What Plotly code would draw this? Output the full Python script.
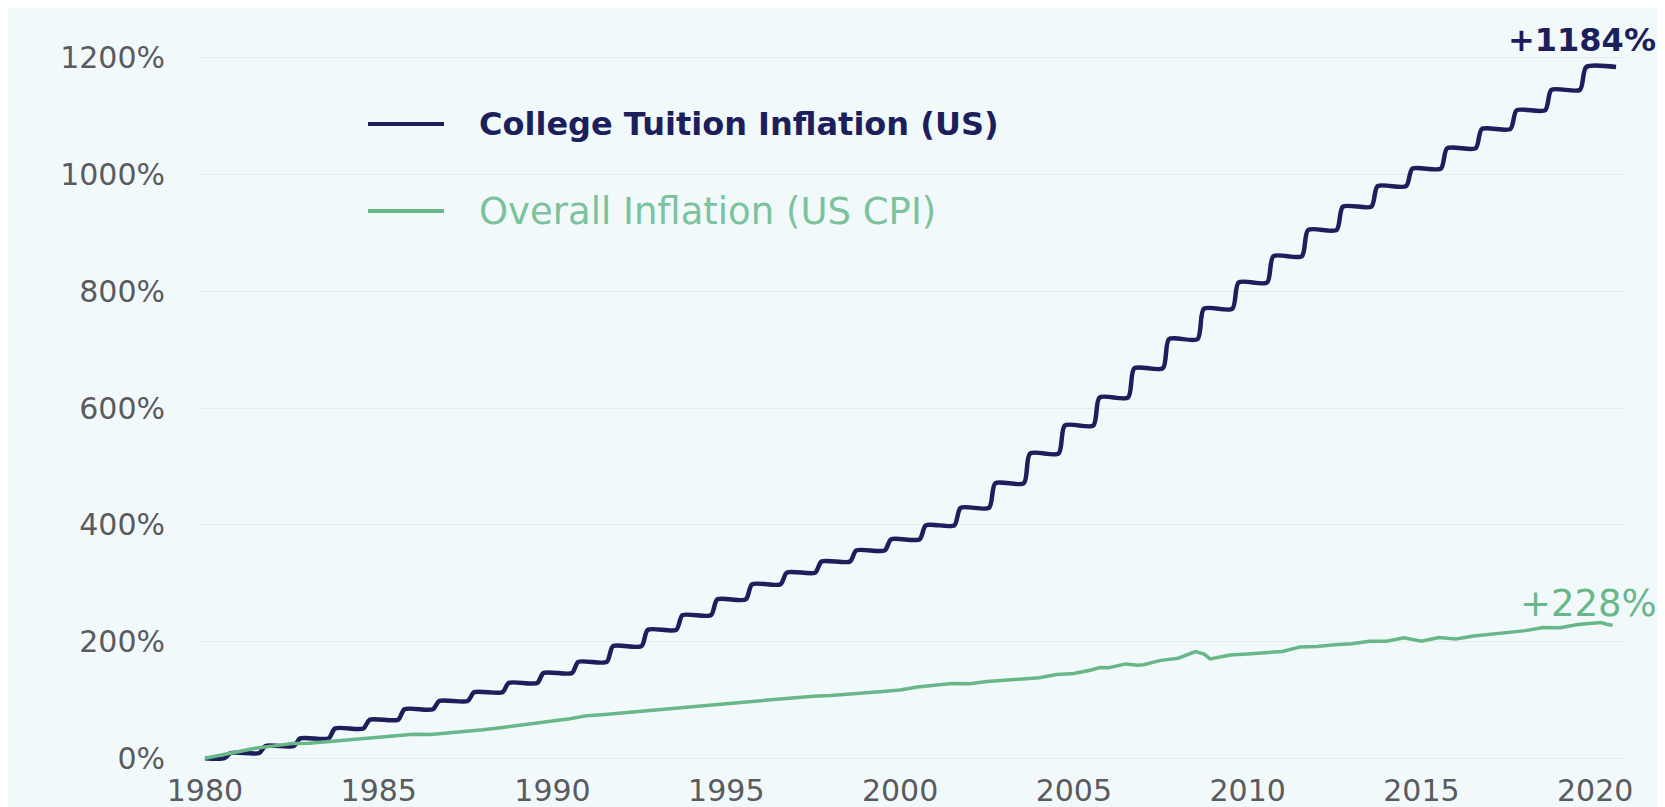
import plotly.graph_objects as go

# ---------------- data ----------------
# College tuition: level (% change since Jan 1980) reached after each autumn jump
tuition_step_years = list(range(1980, 2020))
tuition_levels = [9, 21, 34, 51, 66, 84, 98, 113, 129, 146,
                  165, 192, 220, 245, 272, 298, 318, 337, 356, 375,
                  399, 429, 471, 522, 570, 618, 668, 718, 770, 815,
                  860, 905, 945, 980, 1010, 1045, 1078, 1110, 1145, 1184]
tuition_start = (1980.0, 0)
tuition_end_year = 2020.6

# Overall inflation (US CPI), % change since Jan 1980
cpi_dates = [1980.0, 1980.5, 1981.0, 1981.5, 1982.0, 1982.5, 1983.0, 1983.5, 1984.0, 1984.5,
             1985.0, 1985.5, 1986.0, 1986.5, 1987.0, 1987.5, 1988.0, 1988.5, 1989.0, 1989.5,
             1990.0, 1990.5, 1991.0, 1991.5, 1992.0, 1992.5, 1993.0, 1993.5, 1994.0, 1994.5,
             1995.0, 1995.5, 1996.0, 1996.5, 1997.0, 1997.5, 1998.0, 1998.5, 1999.0, 1999.5,
             2000.0, 2000.5, 2001.0, 2001.5, 2002.0, 2002.5, 2003.0, 2003.5, 2004.0, 2004.5,
             2005.0, 2005.5, 2005.75, 2006.0, 2006.5, 2006.83, 2007.0, 2007.5, 2008.0, 2008.5,
             2008.75, 2008.92, 2009.0, 2009.5, 2010.0, 2010.5, 2011.0, 2011.5, 2012.0, 2012.5,
             2013.0, 2013.5, 2014.0, 2014.5, 2014.92, 2015.0, 2015.5, 2016.0, 2016.5, 2017.0,
             2017.5, 2018.0, 2018.5, 2019.0, 2019.5, 2020.0, 2020.17, 2020.33, 2020.5]
cpi_values = [0, 6.3, 11.8, 17.7, 21.2, 25.3, 25.7, 28.4, 31.0, 33.8,
              35.6, 38.4, 40.9, 40.7, 42.9, 46.3, 48.7, 52.3, 55.7, 59.9,
              63.8, 67.6, 73.0, 75.1, 77.5, 80.6, 83.3, 85.6, 87.9, 90.7,
              93.2, 96.0, 98.5, 101.8, 104.5, 106.3, 107.7, 109.8, 111.2, 114.3,
              117.0, 122.1, 125.1, 128.1, 127.6, 131.5, 133.5, 136.4, 138.0, 143.4,
              145.1, 151.2, 155.5, 154.9, 161.6, 159.4, 160.2, 167.7, 171.3, 182.7,
              178.4, 170.2, 171.3, 176.9, 178.5, 180.2, 183.0, 190.4, 191.4, 194.5,
              196.0, 200.3, 200.6, 206.3, 201.8, 200.4, 206.8, 204.5, 209.3, 212.1,
              214.7, 218.6, 223.9, 223.5, 229.2, 231.6, 232.5, 229.6, 228.0]

x_tickvals = [1980, 1985, 1990, 1995, 2000, 2005, 2010, 2015, 2020]
x_ticktext = ["1980", "1985", "1990", "1995", "2000", "2005", "2010", "2015", "2020"]
y_tickvals = [0, 200, 400, 600, 800, 1000, 1200]
y_ticktext = ["0%", "200%", "400%", "600%", "800%", "1000%", "1200%"]

series_names = ["College Tuition Inflation (US)", "Overall Inflation (US CPI)"]
end_labels = ["+1184%", "+228%"]

# ---------------- style ----------------
NAVY = "#1c1f5c"
GREEN = "#68b789"
GREEN_TEXT = "#7cc29c"
BG = "#f2f9fb"
GRID = "#e3ecef"
TICK = "#5a5b5e"
FONT = "DejaVu Sans"

# build tuition step path (each jump happens over late summer)
tx = [tuition_start[0]]
ty = [tuition_start[1]]
prev = tuition_start[1]
for yr, lvl in zip(tuition_step_years, tuition_levels):
    tx += [yr + 0.56, yr + 0.74]
    ty += [prev, lvl]
    prev = lvl
tx.append(tuition_end_year)
ty.append(prev)

fig = go.Figure()
fig.add_trace(go.Scatter(x=tx, y=ty, mode="lines", name=series_names[0],
                         line=dict(color=NAVY, width=4.5, shape="spline", smoothing=0.7),
                         showlegend=False))
fig.add_trace(go.Scatter(x=cpi_dates, y=cpi_values, mode="lines", name=series_names[1],
                         line=dict(color=GREEN, width=3.5), showlegend=False))

W, H = 1657, 799
L, R, T, B = 190, 42, 41, 40
pw, ph = W - L - R, H - T - B


def px(xp):
    return (xp - L) / pw


def py(yp):
    return (H - B - yp) / ph


shapes = [
    dict(type="line", xref="paper", yref="paper", x0=px(360), x1=px(436), y0=py(116), y1=py(116),
         line=dict(color=NAVY, width=4)),
    dict(type="line", xref="paper", yref="paper", x0=px(360), x1=px(436), y0=py(203), y1=py(203),
         line=dict(color=GREEN, width=4)),
]

annotations = [
    dict(xref="paper", yref="paper", x=px(469), y=py(116), text=series_names[0],
         showarrow=False, xanchor="left", yanchor="middle",
         font=dict(family=FONT, size=32, color=NAVY, weight="bold")),
    dict(xref="paper", yref="paper", x=px(469), y=py(203), text=series_names[1],
         showarrow=False, xanchor="left", yanchor="middle",
         font=dict(family=FONT, size=37, color=GREEN_TEXT)),
    dict(xref="paper", yref="paper", x=px(1650), y=py(32), text=end_labels[0], showarrow=False,
         xanchor="right", yanchor="middle",
         font=dict(family=FONT, size=32, color=NAVY, weight="bold")),
    dict(xref="paper", yref="paper", x=px(1651), y=py(595), text=end_labels[1], showarrow=False,
         xanchor="right", yanchor="middle",
         font=dict(family=FONT, size=37, color=GREEN)),
]

fig.update_layout(
    width=W, height=H,
    margin=dict(l=L, r=R, t=T, b=B),
    paper_bgcolor=BG,
    plot_bgcolor=BG,
    shapes=shapes,
    annotations=annotations,
    showlegend=False,
    xaxis=dict(range=[1979.8, 2020.8], tickvals=x_tickvals, ticktext=x_ticktext,
               showgrid=False, zeroline=False, showline=False, ticks="",
               automargin=False, ticklabelstandoff=3,
               tickfont=dict(family=FONT, size=30, color=TICK)),
    yaxis=dict(range=[-15, 1215], tickvals=y_tickvals, ticktext=y_ticktext,
               showgrid=True, gridcolor=GRID, gridwidth=1, zeroline=False,
               showline=False, ticks="", automargin=False, ticklabelstandoff=32,
               tickfont=dict(family=FONT, size=30, color=TICK)),
)

fig.write_html("out.html")
